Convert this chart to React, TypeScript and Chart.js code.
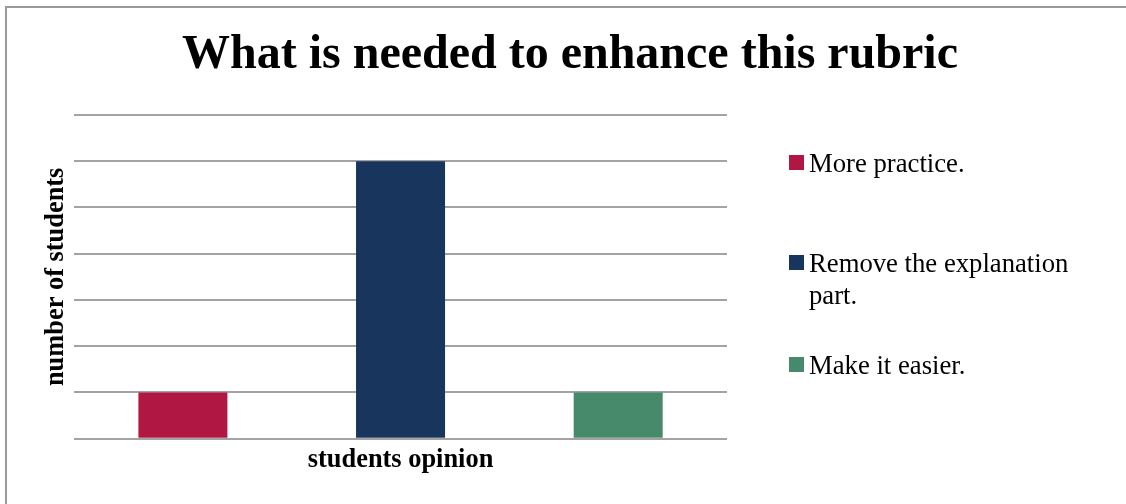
import React, { useEffect, useRef } from "react";
import { Chart, registerables } from "chart.js";

Chart.register(...registerables);

const TITLE = "What is needed to enhance this rubric";
const X_TITLE = "students opinion";
const Y_TITLE = "number of students";
const CATEGORIES = [""];
const SERIES_LABELS = ["More practice.", "Remove the explanation part.", "Make it easier."];
const SERIES_VALUES = [[1], [6], [1]];
const SERIES_COLORS = ["#B01743", "#18365D", "#478A6B"];
const Y_MIN = 0;
const Y_MAX = 7;
const Y_STEP = 1;

const FONT = '"Liberation Serif", "Times New Roman", serif';
const LEGEND_TOPS = [147, 247, 349];

export default function App() {
  const canvasRef = useRef<HTMLCanvasElement | null>(null);

  useEffect(() => {
    const canvas = canvasRef.current;
    if (!canvas) return;
    const chart = new Chart(canvas, {
      type: "bar",
      data: {
        labels: CATEGORIES,
        datasets: SERIES_LABELS.map((label, i) => ({
          label,
          data: SERIES_VALUES[i],
          backgroundColor: SERIES_COLORS[i],
          borderWidth: 0,
          categoryPercentage: 1,
          barPercentage: 0.409,
        })),
      },
      options: {
        animation: false,
        responsive: false,
        maintainAspectRatio: false,
        layout: { padding: { left: 40.8, right: 26.8, top: 0, bottom: 28.2 } },
        plugins: {
          legend: { display: false },
          tooltip: { enabled: false },
          title: {
            display: true,
            text: TITLE,
            color: "#000",
            font: { family: FONT, size: 48, weight: "bold", lineHeight: 1.2 },
            padding: { top: 27.2, bottom: 30.2 },
          },
        },
        scales: {
          x: {
            type: "category",
            grid: { display: false, drawTicks: false },
            border: { display: false },
            ticks: { display: false },
            title: {
              display: true,
              text: X_TITLE,
              color: "#000",
              font: { family: FONT, size: 26.4, weight: "bold", lineHeight: 1.2 },
              padding: { top: 5.4, bottom: 0 },
            },
          },
          y: {
            type: "linear",
            min: Y_MIN,
            max: Y_MAX,
            ticks: { display: false, stepSize: Y_STEP },
            grid: { color: "#a3a3a3", lineWidth: 2, drawTicks: false },
            border: { display: false },
            title: {
              display: true,
              text: Y_TITLE,
              color: "#000",
              font: { family: FONT, size: 26.4, weight: "bold", lineHeight: 1.2 },
              padding: { top: 0, bottom: 1.6 },
            },
          },
          legendSpace: {
            type: "linear",
            position: "right",
            display: true,
            grid: { display: false, drawTicks: false },
            border: { display: false },
            ticks: { display: false },
            afterFit: (scale: any) => {
              scale.width = 372.2;
            },
          },
        },
      } as any,
    });
    return () => chart.destroy();
  }, []);

  return (
    <div
      style={{
        position: "fixed",
        left: 0,
        top: 0,
        width: 1126,
        height: 504,
        overflow: "hidden",
        background: "#fff",
      }}
    >
      <div
        style={{
          position: "absolute",
          left: 5,
          top: 6,
          width: 1300,
          height: 700,
          borderLeft: "2px solid #9a9a9a",
          borderTop: "2px solid #9a9a9a",
        }}
      />
      <canvas
        ref={canvasRef}
        width={1126}
        height={504}
        style={{ position: "absolute", left: 0, top: 0, width: 1126, height: 504 }}
      />
      {SERIES_LABELS.map((label, i) => (
        <div
          key={label}
          style={{
            position: "absolute",
            left: 789,
            top: LEGEND_TOPS[i],
            display: "flex",
            alignItems: "flex-start",
            fontFamily: FONT,
            fontSize: 26.7,
            lineHeight: "32px",
            color: "#000",
          }}
        >
          <span
            style={{
              display: "inline-block",
              width: 15,
              height: 15,
              marginTop: 8,
              marginRight: 5,
              flex: "none",
              background: SERIES_COLORS[i],
            }}
          />
          <span style={{ display: "block", width: 290 }}>{label}</span>
        </div>
      ))}
    </div>
  );
}
